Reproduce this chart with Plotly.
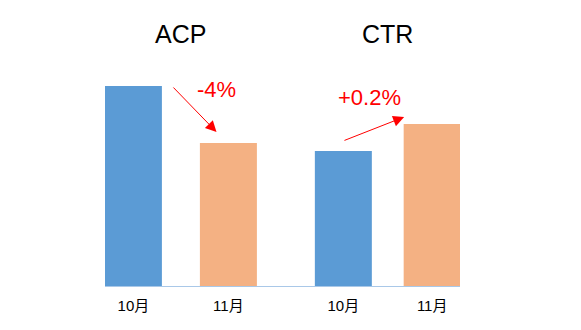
import plotly.graph_objects as go

# ---- data ----
groups = ["ACP", "CTR"]
month_labels = ["10月", "11月", "10月", "11月"]
bar_values = [200, 143, 135, 162]          # relative bar heights
bar_colors = ["#5B9BD5", "#F4B183", "#5B9BD5", "#F4B183"]
changes = ["-4%", "+0.2%"]

# ---- layout constants ----
x_pos = [0, 1, 2.21, 3.145]
bar_width = 0.6
FONT = "Liberation Sans, Arial, Noto Sans CJK SC, sans-serif"

fig = go.Figure(go.Bar(
    x=x_pos, y=bar_values, width=bar_width,
    marker=dict(color=bar_colors, line=dict(width=0)),
    hoverinfo="skip",
))

ann = []
# group titles (paper y so they can sit above the plot area)
for i, g in enumerate(groups):
    cx = (x_pos[2 * i] + x_pos[2 * i + 1]) / 2
    ann.append(dict(x=cx, y=1.0957, xref="x", yref="paper", text=g, showarrow=False,
                    yanchor="middle",
                    font=dict(size=25, color="#000000", family=FONT)))

# change labels
ann.append(dict(x=0.87, y=197, xref="x", yref="y", text=changes[0], showarrow=False,
                font=dict(size=22, color="#FF0000", family=FONT)))
ann.append(dict(x=2.49, y=188.5, xref="x", yref="y", text=changes[1], showarrow=False,
                font=dict(size=22, color="#FF0000", family=FONT)))

# arrows
arrow_common = dict(xref="x", yref="y", axref="x", ayref="y", text="", showarrow=True,
                    arrowhead=2, arrowsize=2.2, arrowwidth=1, arrowcolor="#FF0000",
                    standoff=0, startstandoff=0)
ann.append(dict(x=0.875, y=bar_values[1] + 11, ax=0.406, ay=bar_values[0], **arrow_common))
ann.append(dict(x=2.85, y=bar_values[3] + 7, ax=2.206, ay=bar_values[2] + 10, **arrow_common))

fig.update_layout(
    width=581, height=330,
    margin=dict(l=105, r=121, t=56, b=44),
    paper_bgcolor="#FFFFFF", plot_bgcolor="#FFFFFF",
    showlegend=False,
    annotations=ann,
    xaxis=dict(range=[-0.299, 3.438], tickvals=x_pos, ticktext=month_labels,
               showline=True, linecolor="#A9C8E8", linewidth=1,
               showgrid=False, zeroline=False, ticks="", ticklabelstandoff=6,
               tickfont=dict(size=15, color="#000000", family=FONT), fixedrange=True),
    yaxis=dict(range=[0, 230], showgrid=False, zeroline=False, showticklabels=False,
               showline=False, ticks="", fixedrange=True),
)

fig.write_html("out.html", config={"displayModeBar": False})
